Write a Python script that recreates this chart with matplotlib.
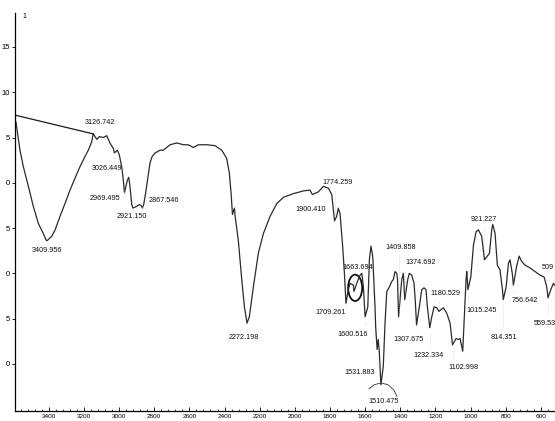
import numpy as np
import matplotlib
matplotlib.use("Agg")
import matplotlib.pyplot as plt
from matplotlib.ticker import MultipleLocator
from matplotlib.patches import Ellipse

# IR spectrum (wavenumber cm-1, %T)
wavenumber = [3598, 3586, 3564, 3545, 3516, 3488, 3459, 3431, 3416, 3409.956,
              3383, 3364, 3336, 3308, 3279, 3251, 3222, 3194, 3175, 3156,
              3147, 3126.742, 3112, 3090, 3070, 3052, 3033, 3026.449, 3010, 2999,
              2985, 2976, 2969.495, 2953, 2945, 2938, 2928, 2921.150, 2900, 2885,
              2875, 2867.546, 2860, 2848, 2836, 2824, 2812, 2795, 2767, 2748,
              2710, 2672, 2634, 2606, 2578, 2549, 2501, 2454, 2416, 2388,
              2373, 2363, 2355, 2344, 2339, 2322, 2302, 2287, 2272.198, 2259,
              2236, 2208, 2179, 2141, 2103, 2065, 2009, 1952, 1914, 1900.410,
              1866, 1838, 1809, 1790, 1781, 1774.259, 1762, 1753, 1743, 1728,
              1718, 1709.261, 1696, 1686, 1667, 1663.694, 1644, 1629, 1619, 1610,
              1600.516, 1585, 1576, 1567, 1557, 1544, 1540, 1531.883, 1526, 1520,
              1510.475, 1497, 1487, 1477, 1462, 1449, 1440, 1430, 1420, 1416,
              1409.858, 1392, 1383, 1374.692, 1358, 1349, 1335, 1322, 1315, 1307.675,
              1292, 1278, 1265, 1254, 1246, 1232.334, 1221, 1208, 1193, 1180.529,
              1155, 1136, 1117, 1102.998, 1083, 1070, 1060, 1050, 1045, 1036,
              1026, 1022, 1015.245, 999, 984, 969, 956, 937, 921.227, 893,
              880, 874, 861, 848, 833, 819, 814.351, 798, 785, 776,
              763, 756.642, 738, 724, 709, 690, 662, 633, 605, 582,
              567, 559.53, 544, 529, 514, 509, 500]
transmittance = [37.5, 36.6, 33.6, 31.8, 29.6, 27.4, 25.5, 24.4, 23.7, 23.6,
                 24.1, 24.8, 26.3, 27.7, 29.2, 30.5, 31.8, 32.9, 33.6, 34.5,
                 35.4, 34.8, 35.1, 35.0, 35.2, 34.4, 33.8, 33.3, 33.6, 33.1,
                 31.8, 30.3, 28.9, 30.3, 30.6, 29.6, 27.6, 27.2, 27.4, 27.6,
                 27.5, 27.2, 27.6, 29.0, 30.6, 32.2, 32.9, 33.3, 33.6, 33.6,
                 34.2, 34.4, 34.2, 34.2, 33.9, 34.2, 34.2, 34.1, 33.6, 32.7,
                 31.1, 28.9, 26.5, 27.2, 26.2, 23.7, 19.3, 16.3, 14.5, 15.2,
                 18.5, 22.2, 24.4, 26.3, 27.7, 28.4, 28.8, 29.1, 29.2, 28.7,
                 29.0, 29.6, 29.4, 28.7, 27.0, 25.8, 26.3, 27.2, 26.6, 23.0,
                 20.0, 16.7, 18.2, 18.9, 18.7, 18.0, 19.1, 19.8, 20.0, 18.5,
                 15.2, 16.3, 21.5, 23.0, 21.9, 16.3, 14.0, 11.6, 12.7, 11.5,
                 7.7, 9.7, 14.5, 18.0, 18.5, 19.1, 19.3, 20.2, 20.0, 19.3,
                 15.2, 19.3, 20.0, 17.1, 19.3, 20.0, 19.8, 18.9, 17.0, 14.3,
                 16.3, 18.2, 18.4, 18.2, 16.3, 14.0, 15.2, 16.3, 16.2, 15.8,
                 16.2, 15.6, 14.5, 12.1, 12.8, 12.7, 12.8, 11.9, 11.4, 15.2,
                 19.3, 20.2, 18.2, 19.6, 23.1, 24.6, 24.8, 24.1, 21.5, 22.2,
                 24.8, 25.4, 24.4, 20.9, 20.4, 18.2, 17.1, 18.5, 21.1, 21.5,
                 20.0, 18.7, 20.8, 21.9, 21.3, 20.9, 20.6, 20.2, 19.8, 19.6,
                 18.5, 17.3, 18.2, 18.9, 18.5, 18.0, 18.6]

# baseline drawn from the start of the scan to the 3126 shoulder
baseline_wn = [3598, 3147]
baseline_t = [37.5, 35.4]

# labelled peaks and where their labels sit (left edge, vertical centre)
peak_wn = [3409.956, 3126.742, 3026.449, 2969.495, 2921.150, 2867.546,
           2272.198, 1900.410, 1774.259, 1709.261, 1663.694, 1600.516,
           1531.883, 1510.475, 1409.858, 1374.692, 1307.675, 1232.334,
           1180.529, 1102.998, 1015.245, 921.227, 814.351, 756.642,
           559.53, 509]
label_wn = [3495, 3194, 3154, 3165, 3012, 2830,
            2374, 1999, 1845, 1885, 1732, 1760,
            1720, 1584, 1487, 1373, 1441, 1328,
            1231, 1128, 1026, 998, 889, 764,
            639, 594]
label_t = [22.5, 36.7, 31.6, 28.3, 26.3, 28.0,
           12.9, 27.0, 30.0, 15.7, 20.7, 13.3,
           9.0, 5.9, 22.9, 21.2, 12.7, 10.9,
           17.8, 9.6, 15.9, 26.0, 12.9, 17.0,
           14.5, 20.6]
label_text = ["%.3f" % w for w in peak_wn]
label_text[-2] = "559.53"
label_text[-1] = "509"

y_ticks = [45, 40, 35, 30, 25, 20, 15, 10]
y_ticklabels = ["15", "10", "5", "0", "5", "0", "5", "0"]

# pen mark around the 1510 label
arc_wn = [1578, 1549, 1510, 1470, 1436, 1419]
arc_t = [7.25, 7.7, 7.9, 7.7, 7.1, 6.4]

fig = plt.figure(figsize=(5.55, 4.21), dpi=100)
ax = fig.add_axes([14.5 / 555, 10 / 421, 1 - 14.5 / 555, 398 / 421])

ax.plot(wavenumber, transmittance, color="#2b2b2b", lw=0.9)
ax.plot(baseline_wn, baseline_t, color="#1a1a1a", lw=0.9)

interp_t = np.interp(peak_wn[::-1], wavenumber[::-1], transmittance[::-1])[::-1]
for w, t_peak, lw_, lt, txt in zip(peak_wn, interp_t, label_wn, label_t, label_text):
    ax.text(lw_, lt, txt, fontsize=5.2, family="Liberation Sans",
            ha="left", va="center", color="#111111")
    ax.plot([w, w], [lt + 0.9 if lt < t_peak else lt - 0.9, t_peak - 0.5 if lt < t_peak else t_peak + 0.5],
            color="#c8c8c8", lw=0.5, ls=":")

ax.add_patch(Ellipse((1657, 18.4), width=80, height=2.9, fill=False,
                     edgecolor="#111111", lw=1.3))
ax.plot(arc_wn, arc_t, color="#333333", lw=0.6)

ax.set_xlim(3595, 520)
ax.set_ylim(4.8, 48.75)

ax.spines["top"].set_visible(False)
ax.spines["right"].set_visible(False)
ax.spines["left"].set_linewidth(0.9)
ax.spines["bottom"].set_linewidth(0.9)

ax.xaxis.set_major_locator(MultipleLocator(200))
ax.xaxis.set_minor_locator(MultipleLocator(40))
ax.tick_params(axis="x", which="major", direction="in", length=3, width=0.6,
               labelsize=4.6, pad=2)
ax.tick_params(axis="x", which="minor", direction="in", length=1.5, width=0.5)
ax.set_yticks(y_ticks)
ax.set_yticklabels(y_ticklabels)
ax.tick_params(axis="y", direction="out", length=2.5, width=0.6,
               labelsize=5.5, pad=0.5)
for lab in ax.get_xticklabels() + ax.get_yticklabels():
    lab.set_family("Liberation Sans")

fig.text(24 / 555, 1 - 17 / 421, "1", fontsize=5, family="Liberation Sans",
         ha="center", va="center")

fig.savefig("out.png", dpi=100)
